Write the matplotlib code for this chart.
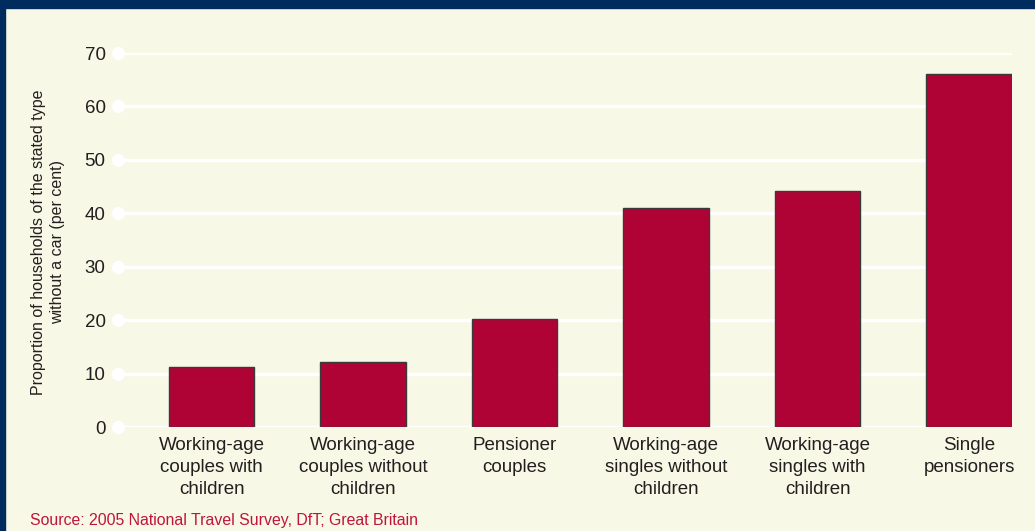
import matplotlib
matplotlib.use("Agg")
import matplotlib.pyplot as plt
from matplotlib.patches import Rectangle

categories = [
    "Working-age\ncouples with\nchildren",
    "Working-age\ncouples without\nchildren",
    "Pensioner\ncouples",
    "Working-age\nsingles without\nchildren",
    "Working-age\nsingles with\nchildren",
    "Single\npensioners",
]
no_car_pct = [11.2, 12.2, 20.2, 41.0, 44.2, 66.1]
y_ticks = [0, 10, 20, 30, 40, 50, 60, 70]

BG = "#f7f8e5"
NAVY = "#002b5e"
BAR = "#b00335"
TEXT = "#231f20"

plt.rcParams["font.family"] = ["Liberation Sans", "DejaVu Sans"]

fig = plt.figure(figsize=(10.35, 5.31), dpi=100, facecolor=BG)
ax = fig.add_axes([118 / 1035, 1 - 427 / 531, (1012 - 118) / 1035, (427 - 53) / 531])
ax.set_facecolor(BG)

# frame: navy band on top and left
fig.patches.append(Rectangle((0, 1 - 8 / 531), 1, 8 / 531, transform=fig.transFigure,
                             color=NAVY, zorder=0))
fig.patches.append(Rectangle((0, 0), 5 / 1035, 1, transform=fig.transFigure,
                             color=NAVY, zorder=0))

x = range(len(categories))
# white gridlines with round dot at the left end
for t in y_ticks:
    ax.axhline(t, color="white", lw=2.5, zorder=1)
ax.scatter([-0.618] * len(y_ticks), y_ticks, s=90, color="white", zorder=2, clip_on=False,
           linewidths=0)

ax.bar(x, no_car_pct, width=0.565, color=BAR, edgecolor="#3a3a3a", linewidth=1.0, zorder=3)

ax.set_xlim(-0.618, 5.283)
ax.set_ylim(0, 70)
for s in ax.spines.values():
    s.set_visible(False)
ax.set_yticks(y_ticks)
ax.set_yticklabels([str(t) for t in y_ticks], fontsize=13.5, color=TEXT)
ax.tick_params(axis="y", length=0, pad=9)
ax.set_xticks(list(x))
ax.set_xticklabels(categories, fontsize=13.5, color=TEXT, linespacing=1.38)
ax.tick_params(axis="x", length=0, pad=7)

fig.text(48 / 1035, 1 - 242 / 531,
         "Proportion of households of the stated type\nwithout a car (per cent)",
         rotation=90, ha="center", va="center", fontsize=11.5, color=TEXT,
         linespacing=1.35)

fig.text(30 / 1035, 1 - 521 / 531, "Source: 2005 National Travel Survey, DfT; Great Britain",
         ha="left", va="center", fontsize=11.4, color="#c0143c")

fig.savefig("out.png", dpi=100, facecolor=BG)
